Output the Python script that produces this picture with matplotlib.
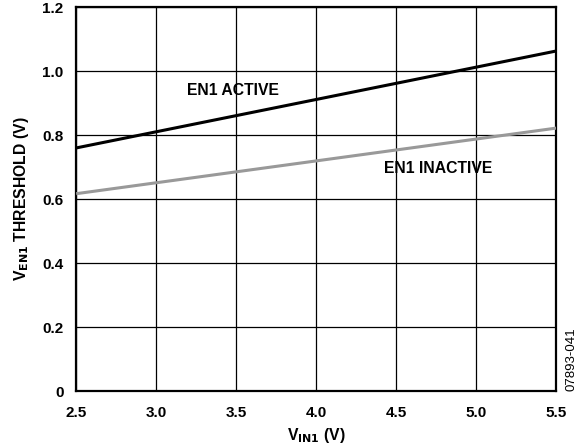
import matplotlib
matplotlib.use("Agg")
import matplotlib.pyplot as plt

plt.rcParams['font.family'] = ['Liberation Sans', 'DejaVu Sans']

v_in = [2.5, 5.5]
active = [0.76, 1.063]
inactive = [0.617, 0.822]
x_ticks = [2.5, 3.0, 3.5, 4.0, 4.5, 5.0, 5.5]
y_ticks = [0, 0.2, 0.4, 0.6, 0.8, 1.0, 1.2]
y_tick_labels = ['0', '0.2', '0.4', '0.6', '0.8', '1.0', '1.2']

fig = plt.figure(figsize=(5.77, 4.48), dpi=100)
ax = fig.add_axes([0.132, 0.127, 0.832, 0.857])

ax.plot(v_in, active, color='black', lw=2.2, solid_capstyle='butt', zorder=3)
ax.plot(v_in, inactive, color='#999999', lw=2.2, solid_capstyle='butt', zorder=3)

ax.set_xlim(2.5, 5.5)
ax.set_ylim(0, 1.2)
ax.set_xticks(x_ticks)
ax.set_xticklabels([f'{t:.1f}' for t in x_ticks])
ax.set_yticks(y_ticks)
ax.set_yticklabels(y_tick_labels)
ax.tick_params(length=0, labelsize=11)
ax.tick_params(axis='x', pad=11)
ax.tick_params(axis='y', pad=9)
for lab in ax.get_xticklabels() + ax.get_yticklabels():
    lab.set_fontweight('bold')
ax.grid(True, color='black', lw=0.9)
ax.set_axisbelow(True)
for sp in ax.spines.values():
    sp.set_linewidth(1.6)

ax.text(3.48, 0.94, 'EN1 ACTIVE', fontsize=11.3, fontweight='bold', ha='center', va='center')
ax.text(4.76, 0.696, 'EN1 INACTIVE', fontsize=11.3, fontweight='bold', ha='center', va='center')

ax.set_xlabel(r'V$_{\mathbf{IN1}}$ (V)', fontsize=11.3, fontweight='bold', labelpad=4)
ax.set_ylabel(r'V$_{\mathbf{EN1}}$ THRESHOLD (V)', fontsize=11.3, fontweight='bold', labelpad=8)

fig.text(0.99, 0.127, '07893-041', rotation=90, fontsize=9.5, ha='center', va='bottom')

fig.savefig('out.png', dpi=100)
